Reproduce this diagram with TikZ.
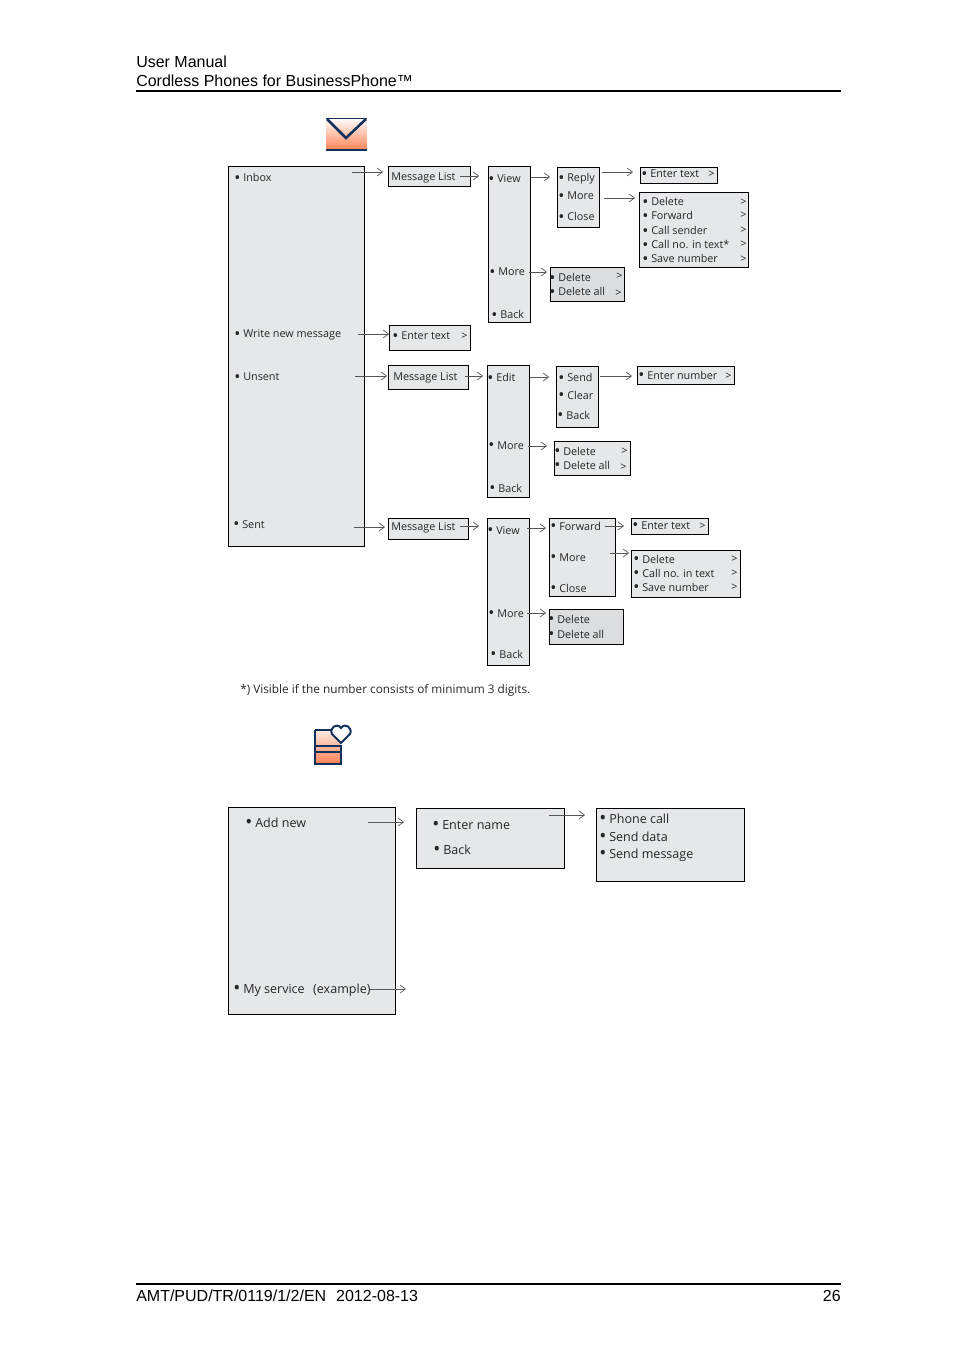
\documentclass[tikz,border=0pt]{standalone}
\usepackage{fontspec}
\usepackage{graphicx}
\setmainfont{Open Sans}
\newfontfamily\headfont{Liberation Sans}
\usetikzlibrary{arrows.meta}
\definecolor{boxgray}{HTML}{E6E7E9}
\definecolor{boxdark}{HTML}{DCDDDF}
\definecolor{navy}{HTML}{12305C}
\definecolor{peach}{HTML}{FF7F50}
\definecolor{linegray}{HTML}{555555}
\newcommand{\mbul}{\raisebox{-1.4pt}{\scalebox{1.5}{•}}\hspace{2.2pt}}
\tikzset{
  boxsize/.style 2 args={minimum width=#1*0.75pt-0.75pt, minimum height=#2*0.75pt-0.75pt},
  menubox/.style={draw=black, line width=0.7pt, fill=boxgray, anchor=north west, inner sep=0pt, outer sep=0pt},
  darkbox/.style={menubox, fill=boxdark},
  item/.style={anchor=base west, inner sep=0pt, yshift=-0.75pt, font=\fontsize{8.1pt}{10pt}\selectfont, text=black!85},
  bigitem/.style={item, yshift=0.75pt, font=\fontsize{9.4pt}{12pt}\selectfont},
  noteitem/.style={item, font=\fontsize{8.85pt}{10pt}\selectfont},
  headtext/.style={anchor=base west, inner sep=0pt, font=\fontsize{12pt}{14pt}\headfont},
  nextarrow/.style={draw=linegray, line width=0.5pt, -{Straight Barb[length=4pt,width=6pt]}},
}
\begin{document}
\begin{tikzpicture}[x=0.75pt, y=-0.75pt]
    \useasboundingbox (0,0) rectangle (954,1351);

    % Header and footer
    \node[headtext] (title) at (136,68) {User Manual};
    \node[headtext] (subtitle) at (136,87) {Cordless Phones for BusinessPhone™};
    \draw[line width=1.4pt] (136,91) -- (841,91);
    \draw[line width=1.4pt] (136,1284) -- (841,1284);
    \node[headtext] (docno) at (136,1301) {AMT/PUD/TR/0119/1/2/EN\ \ \hspace{0.8pt}2012-08-13};
    \node[headtext, anchor=base east] (pageno) at (841,1301) {26};

    % Envelope icon
    \shade[top color=white, bottom color=peach, rounded corners=1pt] (326,118) rectangle (367,151);
    \draw[navy, line width=1.9pt] (327,119) -- (346,138) -- (366,119);
    \draw[navy, line width=1.3pt] (326,118.5) -- (367,118.5);
    \draw[navy, line width=1.9pt] (326,150) -- (367,150);

    % Boxes of the first tree
    \node[menubox, boxsize={137}{381}] (inboxbox) at (228,166) {};
    \node[menubox, boxsize={83}{21}] (listA) at (388,166) {};
    \node[menubox, boxsize={43}{157}] (viewA) at (488,166) {};
    \node[menubox, boxsize={43}{61}] (replyA) at (557,167) {};
    \node[menubox, boxsize={78}{17}] (enterA) at (640,167) {};
    \node[menubox, boxsize={110}{76}] (optionsA) at (639,192) {};
    \node[darkbox, boxsize={75}{35}] (deleteA) at (550,267) {};
    \node[menubox, boxsize={82}{26}] (enterB) at (389,325) {};
    \node[menubox, boxsize={81}{25}] (listB) at (388,365) {};
    \node[menubox, boxsize={43}{133}] (editB) at (487,365) {};
    \node[menubox, boxsize={43}{62}] (sendB) at (556,366) {};
    \node[menubox, boxsize={98}{19}] (numberB) at (637,366) {};
    \node[menubox, boxsize={77}{35}] (deleteB) at (554,441) {};
    \node[menubox, boxsize={81}{22}] (listC) at (388,518) {};
    \node[menubox, boxsize={43}{148}] (viewC) at (487,518) {};
    \node[menubox, boxsize={67}{79}] (forwardC) at (549,518) {};
    \node[menubox, boxsize={78}{17}] (enterC) at (631,518) {};
    \node[menubox, boxsize={110}{48}] (optionsC) at (631,550) {};
    \node[darkbox, boxsize={75}{36}] (deleteC) at (549,609) {};

    % Texts of the first tree
    \node[item] (inbox) at (234,181) {\mbul Inbox};
    \node[item] (write) at (234,337) {\mbul Write new message};
    \node[item] (unsent) at (234,380) {\mbul Unsent};
    \node[item] (sent) at (233,527) {\mbul Sent};
    \node[item] (listAtext) at (391,180) {Message List};
    \node[item] (listBtext) at (393,379) {Message List};
    \node[item] (listCtext) at (391,529) {Message List};
    \node[item] (viewAa) at (488,182) {\mbul View};
    \node[item] (viewAb) at (489,275) {\mbul More};
    \node[item] (viewAc) at (491,318) {\mbul Back};
    \node[item] (replyAa) at (558,181) {\mbul Reply};
    \node[item] (replyAb) at (558,199) {\mbul More};
    \node[item] (replyAc) at (558,220) {\mbul Close};
    \node[item] (enterAtext) at (641,177) {\mbul Enter text};
    \node[item] (enterAmark) at (708,177) {>};
    \node[item] (optAa) at (642,205) {\mbul Delete};
    \node[item] (optAb) at (642,219) {\mbul Forward};
    \node[item] (optAc) at (642,234) {\mbul Call sender};
    \node[item] (optAd) at (642,248) {\mbul Call no. in text*};
    \node[item] (optAe) at (642,262) {\mbul Save number};
    \node[item] (markAa) at (740,205) {>};
    \node[item] (markAb) at (740,218) {>};
    \node[item] (markAc) at (740,233) {>};
    \node[item] (markAd) at (740,247) {>};
    \node[item] (markAe) at (740,262) {>};
    \node[item] (delAa) at (549,281) {\mbul Delete};
    \node[item] (delAb) at (549,295) {\mbul Delete all};
    \node[item] (delAc) at (616,279) {>};
    \node[item] (delAd) at (615,296) {>};
    \node[item] (enterBtext) at (392,339) {\mbul Enter text};
    \node[item] (enterBmark) at (461,339) {>};
    \node[item] (editBa) at (487,381) {\mbul Edit};
    \node[item] (editBb) at (488,448) {\mbul More};
    \node[item] (editBc) at (489,491) {\mbul Back};
    \node[item] (sendBa) at (558,381) {\mbul Send};
    \node[item] (sendBb) at (558,398) {\mbul Clear};
    \node[item] (sendBc) at (557,418) {\mbul Back};
    \node[item] (numberBtext) at (638,378) {\mbul Enter number};
    \node[item] (numberBmark) at (725,378) {>};
    \node[item] (delBa) at (554,454) {\mbul Delete};
    \node[item] (delBb) at (554,468) {\mbul Delete all};
    \node[item] (delBc) at (621,453) {>};
    \node[item] (delBd) at (620,469) {>};
    \node[item] (viewCa) at (487,533) {\mbul View};
    \node[item] (viewCb) at (488,616) {\mbul More};
    \node[item] (viewCc) at (490,657) {\mbul Back};
    \node[item] (forwardCa) at (550,529) {\mbul Forward};
    \node[item] (forwardCb) at (550,560) {\mbul More};
    \node[item] (forwardCc) at (550,591) {\mbul Close};
    \node[item] (enterCtext) at (632,528) {\mbul Enter text};
    \node[item] (enterCmark) at (699,528) {>};
    \node[item] (optCa) at (633,562) {\mbul Delete};
    \node[item] (optCb) at (633,576) {\mbul Call no. in text};
    \node[item] (optCc) at (633,590) {\mbul Save number};
    \node[item] (markCa) at (731,561) {>};
    \node[item] (markCb) at (731,575) {>};
    \node[item] (markCc) at (731,589) {>};
    \node[item] (delCa) at (548,622) {\mbul Delete};
    \node[item] (delCb) at (548,637) {\mbul Delete all};
    \node[noteitem] (note) at (240,692) {*) Visible if the number consists of minimum 3 digits.};

    % Tails of the connectors
    \coordinate (t1) at (352,172);
    \coordinate (t2) at (460,176);
    \coordinate (t3) at (531,177);
    \coordinate (t4) at (602,172);
    \coordinate (t5) at (604,198);
    \coordinate (t6) at (529,272);
    \coordinate (t7) at (358,334);
    \coordinate (t8) at (355,376);
    \coordinate (t9) at (465,376);
    \coordinate (t10) at (530,377);
    \coordinate (t11) at (600,376);
    \coordinate (t12) at (528,446);
    \coordinate (t13) at (354,527);
    \coordinate (t14) at (460,526);
    \coordinate (t15) at (527,528);
    \coordinate (t16) at (605,526);
    \coordinate (t17) at (610,553);
    \coordinate (t18) at (527,613);

    % Connectors of the first tree
    \draw[nextarrow, shorten >=3.75pt] (t1) -- (t1 -| listA.west);
    \draw[nextarrow, shorten >=6.75pt] (t2) -- (t2 -| viewA.west);
    \draw[nextarrow, shorten >=5.25pt] (t3) -- (t3 -| replyA.west);
    \draw[nextarrow, shorten >=5.25pt] (t4) -- (t4 -| enterA.west);
    \draw[nextarrow, shorten >=3pt] (t5) -- (t5 -| optionsA.west);
    \draw[nextarrow, shorten >=2.25pt] (t6) -- (t6 -| deleteA.west);
    \draw[nextarrow] (t7) -- (t7 -| enterB.west);
    \draw[nextarrow, shorten >=0.75pt] (t8) -- (t8 -| listB.west);
    \draw[nextarrow, shorten >=3pt] (t9) -- (t9 -| editB.west);
    \draw[nextarrow, shorten >=5.25pt] (t10) -- (t10 -| sendB.west);
    \draw[nextarrow, shorten >=3.75pt] (t11) -- (t11 -| numberB.west);
    \draw[nextarrow, shorten >=5.25pt] (t12) -- (t12 -| deleteB.west);
    \draw[nextarrow, shorten >=2.25pt] (t13) -- (t13 -| listC.west);
    \draw[nextarrow, shorten >=6pt] (t14) -- (t14 -| viewC.west);
    \draw[nextarrow, shorten >=2.25pt] (t15) -- (t15 -| forwardC.west);
    \draw[nextarrow, shorten >=5.25pt] (t16) -- (t16 -| enterC.west);
    \draw[nextarrow, shorten >=1.5pt] (t17) -- (t17 -| optionsC.west);
    \draw[nextarrow, shorten >=2.25pt] (t18) -- (t18 -| deleteC.west);

    % Service icon
    \shade[top color=white!85!peach, bottom color=peach] (315,730) rectangle (341,764);
    \draw[navy, line width=1.5pt] (315,730) -- (315,764) -- (341,764) -- (341,745);
    \draw[navy, line width=1.2pt] (315,730) -- (333,730);
    \draw[navy, line width=1.8pt] (315,746) -- (341,746);
    \draw[navy, line width=1.8pt] (315,752) -- (341,752);
    \draw[navy, line width=1.5pt, fill=white] (341,743) -- (332,734) .. controls (329,728) and (337,722) .. (341,728) .. controls (345,722) and (353,728) .. (350,734) -- cycle;

    % Second tree
    \node[menubox, boxsize={168}{208}] (addbox) at (228,807) {};
    \node[menubox, boxsize={149}{61}] (namebox) at (416,808) {};
    \node[menubox, boxsize={149}{74}] (callbox) at (596,808) {};
    \node[bigitem] (addnew) at (245,827) {\mbul Add new};
    \node[bigitem] (service) at (233,993) {\mbul My service\ \ \hspace{1.5pt}(example)};
    \node[bigitem] (entername) at (432,829) {\mbul Enter name};
    \node[bigitem] (backname) at (433,854) {\mbul Back};
    \node[bigitem] (phone) at (599,823) {\mbul Phone call};
    \node[bigitem] (data) at (599,841) {\mbul Send data};
    \node[bigitem] (message) at (599,858) {\mbul Send message};

    \coordinate (t19) at (368,822);
    \coordinate (t20) at (549,815);
    \coordinate (t21) at (370,989);
    \coordinate (e21) at (406,989);
    \draw[nextarrow, shorten >=9pt] (t19) -- (t19 -| namebox.west);
    \draw[nextarrow, shorten >=8.25pt] (t20) -- (t20 -| callbox.west);
    \draw[nextarrow] (t21) -- (e21);

\end{tikzpicture}
\end{document}
